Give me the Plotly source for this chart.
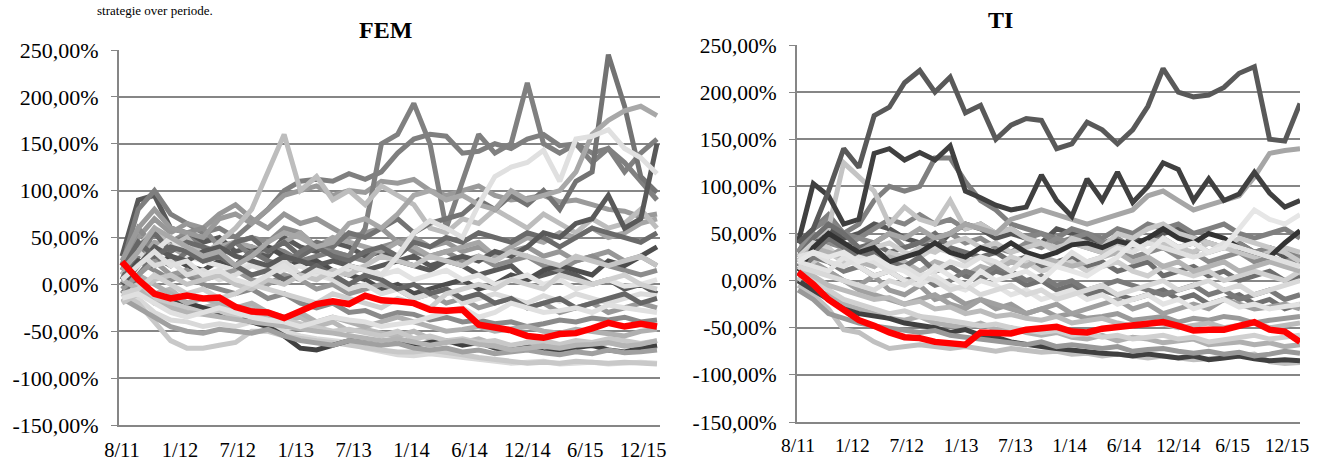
import plotly.graph_objects as go

# ---------------- axis data ----------------
weeks = list(range(0, 232, 7))  # sampling positions (weeks since 8/11)
tick_weeks = [0, 25, 50, 75, 100, 125, 150, 175, 200, 225]
tick_labels = ["8/11", "1/12", "7/12", "1/13", "7/13", "1/14", "6/14", "12/14", "6/15", "12/15"]
y_ticks = [-150, -100, -50, 0, 50, 100, 150, 200, 250]
y_labels = ["-150,00%", "-100,00%", "-50,00%", "0,00%", "50,00%", "100,00%", "150,00%", "200,00%", "250,00%"]

# ---------------- FEM series (%) ----------------
fem_red = [24, 5, -10, -15, -12, -15, -14, -24, -29, -30, -36, -28, -21, -18, -21, -12, -17, -18, -20, -27, -28, -27, -43, -46, -49, -55, -57, -53, -52, -47, -41, -45, -42, -45]
fem_a = [10, 40, 60, 40, 50, 30, 45, 60, 80, 120, 160, 100, 115, 90, 100, 85, 105, 95, 85, 60, 55, 70, 65, 80, 70, 60, 75, 65, 55, 70, 60, 65, 80, 60]
fem_b = [20, 80, 100, 75, 65, 55, 60, 50, 65, 80, 100, 110, 112, 110, 118, 112, 120, 140, 155, 160, 158, 140, 142, 150, 145, 155, 160, 148, 150, 140, 145, 120, 140, 155]
fem_c = [0, 30, 55, 45, 50, 40, 35, 45, 30, 40, 35, 25, 30, 35, 30, 60, 150, 160, 193, 150, 60, 110, 160, 140, 150, 215, 150, 140, 150, 130, 145, 130, 110, 90]
fem_d = [-10, 10, 30, 20, 35, 25, 30, 20, 35, 25, 20, 35, 45, 40, 55, 50, 60, 70, 55, 65, 70, 75, 90, 80, 95, 85, 100, 80, 110, 120, 245, 190, 115, 98]
fem_e = [5, 20, 35, 20, 25, 10, 15, 5, 0, 10, 20, 5, 15, 10, 20, 15, 10, 30, 55, 68, 60, 50, 85, 115, 125, 130, 143, 110, 155, 158, 165, 145, 135, 118]
fem_f = [15, 35, 60, 50, 40, 30, 35, 20, 30, 45, 55, 50, 40, 45, 65, 70, 60, 75, 95, 100, 90, 95, 85, 80, 100, 90, 95, 100, 120, 160, 175, 185, 190, 180]
fem_g = [0, 20, 40, 30, 25, 35, 40, 30, 25, 20, 30, 25, 20, 25, 20, 15, 20, 25, 30, 20, 25, 30, 25, 35, 30, 40, 55, 50, 65, 70, 95, 60, 70, 150]
fem_h = [25, 60, 80, 60, 55, 50, 70, 75, 65, 80, 95, 100, 105, 95, 100, 98, 110, 108, 112, 100, 95, 100, 105, 95, 90, 92, 95, 88, 90, 85, 80, 78, 72, 75]
fem_m1 = [0, 20, 35, 50, 30, 25, 20, 15, 22, 10, 15, 20, 10, 5, 15, 20, 10, 15, 5, 10, 15, 5, 10, 0, 5, 10, 0, 5, -5, 0, 5, -2, 0, 5]
fem_m2 = [-20, -10, 5, 10, 0, 5, 10, 0, -5, 5, 0, 10, 5, 15, 10, 20, 30, 25, 20, 30, 25, 20, 30, 25, 35, 30, 25, 20, 30, 25, 20, 25, 30, 20]
fem_m3 = [10, 30, 45, 40, 30, 35, 40, 45, 40, 35, 45, 55, 40, 50, 45, 40, 35, 45, 40, 30, 35, 40, 45, 30, 40, 50, 45, 55, 50, 60, 50, 55, 65, 70]
fem_m4 = [5, 25, 20, 30, 20, 15, 25, 20, 35, 40, 30, 20, 25, 15, 10, 5, -5, 0, -10, -5, 0, 5, -5, 0, 10, 5, 15, 20, 15, 10, 25, 20, 30, 40]
fem_m5 = [-10, -5, 10, 0, -10, -5, -15, -10, 0, -5, -10, -15, -20, -10, -15, -20, -25, -15, -20, -25, -10, -5, 0, -5, 5, 0, -5, 10, 5, 0, 5, 10, 0, -5]
fem_m6 = [20, 60, 40, 45, 55, 60, 40, 45, 50, 45, 60, 55, 40, 35, 30, 25, 40, 45, 35, 30, 35, 25, 30, 20, 25, 30, 20, 15, 25, 30, 20, 15, 10, 15]
fem_m7 = [0, 10, 0, -10, -20, -15, -20, -25, -20, -30, -35, -30, -40, -35, -40, -45, -40, -35, -40, -45, -50, -48, -45, -50, -48, -45, -50, -52, -48, -50, -52, -55, -50, -48]
fem_m8 = [-15, -10, -20, -30, -35, -30, -25, -30, -35, -38, -40, -45, -40, -35, -38, -40, -45, -42, -40, -35, -30, -25, -35, -30, -20, -25, -30, -28, -25, -30, -22, -25, -28, -30]
fem_m9 = [30, 90, 95, 60, 55, 45, 50, 35, 40, 30, 50, 40, 35, 45, 40, 30, 35, 25, 20, 15, 25, 20, 10, 15, 20, 5, 10, 15, 10, 0, 5, -5, 0, -10]
fem_m10 = [-5, 10, 25, 10, 15, 5, 10, 15, 5, 0, 10, 5, -5, 0, -10, -5, 0, -5, -15, -10, -20, -15, -25, -20, -15, -25, -20, -30, -25, -20, -30, -25, -20, -25]
fem_m11 = [15, 45, 30, 40, 35, 25, 30, 20, 10, 15, 5, 10, 20, 10, 0, 10, 5, -5, 0, -10, -5, -15, -10, -20, -15, -25, -20, -15, -25, -20, -15, -10, -20, -15]
fem_n1 = [-5, 0, -15, -20, -25, -30, -28, -35, -30, -40, -38, -42, -45, -50, -48, -52, -55, -50, -58, -55, -60, -58, -62, -60, -65, -62, -60, -64, -60, -62, -58, -60, -63, -60]
fem_n2 = [10, 25, 15, 5, 10, 0, -5, -10, -5, -15, -10, -20, -25, -20, -30, -28, -35, -30, -32, -38, -35, -40, -38, -42, -40, -45, -42, -38, -40, -36, -38, -35, -40, -38]
fem_n3 = [15, 35, 20, 25, 10, 15, 5, 10, 20, 15, 25, 10, 15, 5, -5, 0, -10, -5, -15, -10, -5, -20, -15, -10, -15, -20, -12, -18, -10, -15, -20, -15, -10, -12]
fem_n4 = [5, 40, 55, 35, 45, 40, 30, 45, 50, 35, 45, 30, 40, 30, 25, 35, 40, 30, 45, 40, 50, 45, 55, 50, 45, 55, 50, 40, 50, 60, 55, 50, 45, 55]
fem_n5 = [0, 5, -10, -5, -20, -25, -20, -30, -25, -35, -40, -35, -45, -40, -50, -48, -52, -55, -50, -58, -60, -62, -58, -64, -66, -62, -65, -68, -64, -66, -62, -65, -68, -66]
fem_n6 = [20, 50, 70, 55, 65, 60, 75, 85, 70, 60, 75, 65, 70, 60, 50, 55, 60, 45, 50, 40, 45, 35, 40, 30, 35, 40, 30, 35, 25, 30, 35, 25, 30, 20]
fem_l1 = [-10, -20, -40, -60, -68, -68, -65, -62, -50, -50, -55, -58, -60, -62, -65, -68, -70, -72, -72, -70, -72, -75, -78, -80, -82, -84, -83, -84, -82, -83, -84, -83, -84, -85]
fem_l2 = [-15, -25, -35, -45, -50, -52, -48, -50, -52, -48, -55, -60, -62, -65, -60, -62, -65, -63, -68, -70, -68, -72, -70, -74, -72, -70, -73, -75, -72, -74, -70, -73, -72, -70]
fem_l3 = [10, 0, -10, -15, -20, -25, -30, -35, -40, -45, -55, -68, -70, -65, -60, -58, -62, -60, -65, -62, -60, -65, -62, -68, -70, -66, -72, -70, -68, -65, -70, -72, -68, -65]
fem_l4 = [-5, -15, -30, -38, -40, -45, -42, -45, -40, -45, -50, -55, -58, -60, -62, -68, -72, -75, -76, -74, -76, -78, -80, -82, -84, -83, -82, -85, -84, -83, -85, -84, -83, -84]
fem_l5 = [5, -5, -20, -25, -30, -32, -35, -38, -40, -42, -45, -48, -50, -52, -55, -58, -60, -58, -62, -65, -62, -60, -64, -66, -70, -68, -66, -68, -65, -64, -62, -66, -64, -60]

# ---------------- TI series (%) ----------------
ti_red = [9, -4, -20, -30, -42, -48, -55, -60, -61, -65, -66, -68, -55, -56, -56, -52, -50, -49, -54, -55, -51, -49, -47, -46, -44, -48, -53, -52, -52, -48, -44, -52, -54, -65]
ti_t1 = [40, 55, 95, 140, 120, 175, 184, 210, 223, 200, 216, 178, 186, 150, 165, 172, 170, 140, 145, 168, 160, 145, 160, 185, 225, 200, 195, 197, 205, 220, 227, 150, 148, 188]
ti_t2 = [40, 103, 90, 60, 65, 135, 140, 128, 136, 128, 143, 95, 88, 80, 75, 78, 112, 85, 68, 108, 85, 115, 83, 100, 125, 118, 85, 108, 85, 92, 115, 93, 78, 85]
ti_t3 = [30, 55, 70, 50, 60, 85, 100, 95, 100, 130, 130, 105, 85, 75, 60, 55, 50, 45, 55, 50, 45, 55, 50, 60, 55, 60, 50, 55, 60, 50, 45, 50, 55, 45]
ti_t4 = [20, 45, 55, 125, 110, 95, 60, 78, 65, 60, 85, 55, 60, 50, 55, 45, 40, 35, 40, 35, 30, 40, 35, 45, 40, 35, 30, 40, 35, 30, 25, 30, 35, 30]
ti_t5 = [15, 30, 25, 35, 30, 40, 50, 45, 55, 45, 50, 60, 55, 50, 65, 70, 75, 70, 65, 60, 65, 70, 75, 90, 95, 85, 75, 80, 85, 90, 110, 135, 138, 140]
ti_t6 = [10, 35, 50, 40, 30, 35, 20, 25, 30, 40, 30, 25, 35, 30, 40, 30, 25, 30, 38, 40, 35, 42, 38, 45, 55, 45, 40, 50, 45, 35, 30, 25, 40, 53]
ti_t7 = [20, 30, 25, 30, 20, 25, 15, 10, 0, 15, 5, -5, 10, 0, 5, 10, 0, 15, 10, 5, 15, 25, 40, 30, 45, 35, 40, 30, 35, 55, 75, 65, 60, 70]
ti_c1 = [30, 50, 40, 35, 45, 40, 50, 35, 40, 45, 50, 40, 45, 35, 30, 40, 35, 45, 40, 35, 30, 35, 25, 30, 35, 25, 30, 20, 25, 30, 20, 25, 20, 25]
ti_c2 = [20, 35, 30, 25, 20, 15, 25, 20, 10, 20, 15, 5, 15, 10, 20, 15, 25, 20, 15, 20, 25, 30, 20, 25, 15, 20, 10, 15, 20, 10, 15, 20, 15, 10]
ti_c3 = [25, 45, 60, 50, 35, 40, 30, 35, 40, 50, 35, 30, 25, 30, 20, 25, 15, 20, 25, 15, 20, 10, 15, 20, 5, 10, 15, 5, 10, 0, 5, 10, 0, 5]
ti_c4 = [15, 10, 5, 0, -5, -10, 0, -5, 5, 0, -10, -5, -15, -10, -5, -15, -10, -20, -15, -10, -5, -15, -10, -5, 0, -10, -5, 0, -10, -5, -15, -10, -5, 0]
ti_c5 = [5, 15, 10, 0, -10, -15, -20, -25, -20, -15, -25, -30, -20, -25, -30, -35, -30, -25, -35, -30, -25, -20, -30, -25, -35, -30, -25, -30, -20, -25, -30, -28, -25, -30]
ti_c6 = [0, 20, 30, 20, 25, 15, 30, 25, 35, 30, 40, 45, 35, 40, 30, 35, 40, 30, 45, 40, 35, 50, 45, 55, 60, 50, 45, 40, 35, 45, 40, 35, 30, 20]
ti_c7 = [10, 25, 20, 10, 15, 5, 10, 0, 5, -5, 0, 10, 5, 15, 10, 0, 5, -5, 0, -10, -5, 0, -5, -10, -15, -10, -5, -15, -10, -20, -15, -10, -20, -15]
ti_c8 = [25, 30, 20, 15, 25, 20, 10, 15, 5, 10, 20, 15, 25, 20, 10, 25, 20, 15, 30, 20, 25, 35, 30, 40, 35, 30, 25, 30, 40, 35, 30, 25, 20, 15]
ti_c9 = [20, 40, 55, 45, 50, 60, 55, 45, 40, 35, 50, 60, 55, 45, 50, 45, 40, 55, 50, 45, 40, 35, 45, 40, 50, 55, 45, 40, 35, 40, 30, 35, 25, 20]
ti_n1 = [5, 20, 10, 0, -5, 5, -10, -15, -5, -20, -15, -25, -20, -30, -25, -35, -30, -38, -35, -40, -38, -35, -42, -40, -38, -44, -40, -42, -38, -40, -45, -42, -40, -38]
ti_n2 = [25, 40, 35, 20, 30, 35, 40, 30, 25, 35, 30, 20, 25, 15, 25, 20, 10, 15, 20, 10, 15, 20, 10, 5, 15, 10, 5, 10, 0, 5, 10, 5, 0, 10]
ti_n3 = [15, 30, 45, 35, 25, 30, 20, 15, 25, 10, 15, 5, 0, 10, 5, -5, 0, -10, -5, -15, -10, -15, -20, -15, -10, -20, -15, -25, -20, -15, -25, -20, -30, -25]
ti_n4 = [0, -10, -15, -25, -30, -35, -40, -42, -38, -45, -48, -50, -45, -52, -50, -55, -58, -55, -60, -62, -58, -64, -60, -62, -66, -64, -62, -68, -66, -65, -68, -66, -70, -68]
ti_n5 = [20, 15, 10, 25, 15, 5, 10, 0, -5, 5, -5, -10, 0, -5, -15, -10, -20, -15, -10, -20, -15, -25, -20, -15, -25, -20, -30, -25, -20, -28, -25, -30, -28, -25]
ti_n6 = [30, 55, 65, 50, 45, 55, 65, 60, 70, 60, 65, 55, 60, 50, 55, 45, 50, 40, 45, 50, 40, 45, 35, 40, 45, 35, 40, 30, 35, 40, 30, 35, 30, 25]
ti_b1 = [-5, -15, -30, -52, -55, -65, -72, -70, -68, -70, -72, -70, -73, -75, -72, -74, -76, -75, -78, -77, -80, -78, -80, -82, -80, -82, -84, -83, -82, -80, -78, -86, -88, -87]
ti_b2 = [0, -10, -20, -30, -35, -38, -40, -45, -48, -50, -55, -52, -58, -60, -65, -68, -70, -72, -74, -75, -77, -78, -80, -78, -80, -82, -80, -84, -82, -80, -83, -85, -84, -85]
ti_b3 = [-10, -20, -35, -40, -45, -48, -50, -52, -55, -53, -58, -60, -62, -65, -66, -68, -65, -70, -68, -70, -72, -70, -75, -73, -72, -75, -77, -75, -78, -76, -80, -78, -75, -77]
ti_b4 = [10, 0, -10, -20, -25, -30, -35, -32, -38, -40, -42, -45, -48, -46, -50, -52, -55, -53, -58, -56, -60, -58, -62, -60, -58, -62, -60, -65, -63, -60, -58, -62, -60, -58]
ti_b5 = [15, 5, -5, -10, -15, -20, -18, -25, -22, -30, -28, -35, -32, -38, -36, -40, -42, -38, -45, -42, -40, -45, -48, -44, -46, -50, -48, -45, -50, -47, -45, -50, -48, -45]

# ---------------- styling ----------------
fem_styled = [
    (fem_l4, "#d9d9d9"), (fem_m9, "#595959"), (fem_n5, "#b8b8b8"), (fem_l1, "#c8c8c8"),
    (fem_b, "#7f7f7f"), (fem_n6, "#979797"), (fem_m6, "#8c8c8c"), (fem_l3, "#404040"),
    (fem_n1, "#c8c8c8"), (fem_h, "#9a9a9a"), (fem_m3, "#a6a6a6"), (fem_n2, "#8a8a8a"),
    (fem_c, "#808080"), (fem_m4, "#4d4d4d"), (fem_l2, "#a0a0a0"), (fem_a, "#bdbdbd"),
    (fem_n4, "#6a6a6a"), (fem_m1, "#e3e3e3"), (fem_m7, "#b0b0b0"), (fem_d, "#737373"),
    (fem_m10, "#999999"), (fem_n3, "#dcdcdc"), (fem_g, "#595959"), (fem_m11, "#666666"),
    (fem_f, "#a8a8a8"), (fem_m2, "#c4c4c4"), (fem_l5, "#b4b4b4"), (fem_m5, "#d0d0d0"),
    (fem_m8, "#e0e0e0"), (fem_e, "#e0e0e0"),
]
ti_styled = [
    (ti_b1, "#c0c0c0"), (ti_c9, "#555555"), (ti_n4, "#b0b0b0"), (ti_b2, "#404040"),
    (ti_t3, "#7f7f7f"), (ti_n6, "#858585"), (ti_c1, "#8c8c8c"), (ti_b3, "#999999"),
    (ti_n1, "#9a9a9a"), (ti_t4, "#c4c4c4"), (ti_c3, "#6e6e6e"), (ti_n2, "#cfcfcf"),
    (ti_c6, "#c8c8c8"), (ti_t5, "#a6a6a6"), (ti_c2, "#b3b3b3"), (ti_b4, "#d0d0d0"),
    (ti_n3, "#707070"), (ti_c7, "#7a7a7a"), (ti_t6, "#333333"), (ti_c5, "#a0a0a0"),
    (ti_b5, "#bbbbbb"), (ti_n5, "#e3e3e3"), (ti_c4, "#d9d9d9"), (ti_c8, "#e0e0e0"),
    (ti_t7, "#e6e6e6"), (ti_t2, "#404040"), (ti_t1, "#595959"),
]

fig = go.Figure()
for vals, col in fem_styled:
    fig.add_trace(go.Scatter(x=weeks, y=vals, mode="lines", xaxis="x", yaxis="y",
                             line=dict(color=col, width=5), hoverinfo="skip", showlegend=False))
fig.add_trace(go.Scatter(x=weeks, y=fem_red, mode="lines", xaxis="x", yaxis="y",
                         line=dict(color="#ff0000", width=6.5), hoverinfo="skip", showlegend=False))
for vals, col in ti_styled:
    fig.add_trace(go.Scatter(x=weeks, y=vals, mode="lines", xaxis="x2", yaxis="y2",
                             line=dict(color=col, width=5), hoverinfo="skip", showlegend=False))
fig.add_trace(go.Scatter(x=weeks, y=ti_red, mode="lines", xaxis="x2", yaxis="y2",
                         line=dict(color="#ff0000", width=6.5), hoverinfo="skip", showlegend=False))

W, H = 1320, 464
grid = "#868686"
font_fam = "Liberation Serif"

def xax(dom, rng, size, anchor):
    return dict(domain=dom, range=rng, anchor=anchor, automargin=False, tickmode="array",
                tickvals=tick_weeks, ticktext=tick_labels,
                showgrid=False, zeroline=False, showline=True, linecolor=grid, linewidth=2,
                ticks="", ticklabelstandoff=5, tickfont=dict(family=font_fam, size=size, color="#000000"))

def yax(dom, anchor, size):
    return dict(domain=dom, range=[-150, 250], anchor=anchor, automargin=False, tickmode="array",
                tickvals=y_ticks, ticktext=y_labels, showgrid=True, gridcolor=grid, gridwidth=2,
                zeroline=False, showline=True, linecolor=grid, linewidth=2, ticks="outside",
                ticklen=6, tickcolor=grid, ticklabelstandoff=8,
                tickfont=dict(family=font_fam, size=size, color="#000000"))

fig.update_layout(
    template="none",
    width=W, height=H, margin=dict(l=0, r=0, t=0, b=0, pad=0, autoexpand=False),
    paper_bgcolor="white", plot_bgcolor="white", showlegend=False,
    xaxis=xax([119 / W, 660 / W], [-1.3, 232.3], 20.5, "y"),
    yaxis=yax([(H - 425) / H, (H - 50) / H], "x", 22),
    xaxis2=xax([797 / W, 1300 / W], [-0.5, 231.0], 19.5, "y2"),
    yaxis2=yax([(H - 422) / H, (H - 45) / H], "x2", 21.5),
    annotations=[
        dict(text="<b>FEM</b>", x=385 / W, y=(H - 30) / H, xref="paper", yref="paper",
             showarrow=False, xanchor="center", yanchor="middle",
             font=dict(family=font_fam, size=24, color="#000000")),
        dict(text="<b>TI</b>", x=1000 / W, y=(H - 20) / H, xref="paper", yref="paper",
             showarrow=False, xanchor="center", yanchor="middle",
             font=dict(family=font_fam, size=24, color="#000000")),
        dict(text="strategie over periode.", x=95 / W, y=(H - 1) / H, xref="paper", yref="paper",
             showarrow=False, xanchor="left", yanchor="top",
             font=dict(family=font_fam, size=13, color="#000000")),
    ],
)

fig.write_html("out.html")
